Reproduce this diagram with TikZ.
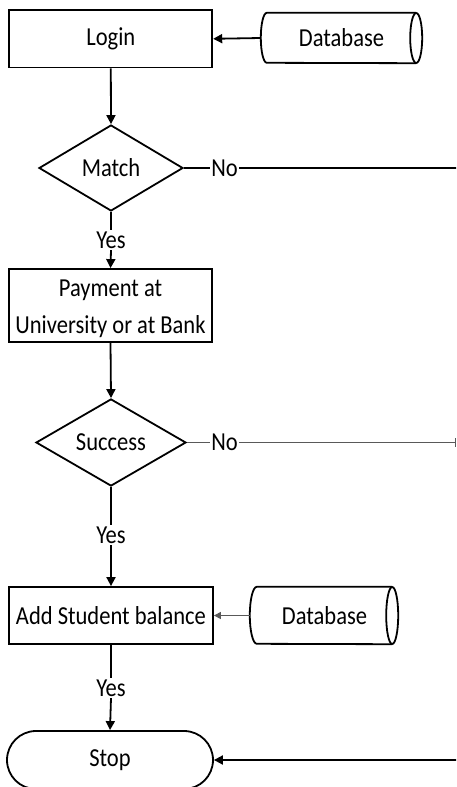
\documentclass[tikz,border=0pt]{standalone}
\usepackage{fontspec}
\setmainfont{Carlito}[FakeStretch=0.87]
\usetikzlibrary{shapes.geometric,shapes.misc,arrows.meta}

\begin{document}
\begin{tikzpicture}[x=1pt,y=1pt,
  every node/.style={font=\fontsize{25.9}{37}\selectfont},
  conn/.style={line width=1.8pt, draw=black},
  arr/.style={conn, -{Triangle[length=9pt,width=9pt]}},
  greyconn/.style={line width=1.1pt, draw=black!65},
  outline/.style={line width=1.8pt, draw=black},
  proc/.style={outline, rectangle, minimum width=203pt, inner sep=0pt, align=center},
  decision/.style={outline, diamond, inner sep=0pt},
  dbbody/.style={rectangle, inner sep=0pt},
  terminal/.style={outline, rounded rectangle, inner sep=0pt},
  lbl/.style={inner sep=1.5pt}
]
\useasboundingbox (0,0) rectangle (456,-787);
\clip (0,0) rectangle (456,-787);

% process steps
\node[proc, minimum height=57.5pt] (login) at (110.8,-38.8) {Login};
\node[decision, minimum width=144pt, minimum height=86pt] (match) at (111,-168) {Match};
\node[proc, minimum height=73pt] (pay) at (110.5,-305.5) {};
\node[align=center, inner sep=0pt, yshift=-3.5pt] (paytext) at (pay) {Payment at\\University or at Bank};
\node[decision, minimum width=150pt, minimum height=87pt] (succ) at (111,-442.5) {Success};
\node[proc, minimum width=204pt, minimum height=57pt] (add) at (111,-615.5) {Add Student balance};
\node[terminal, minimum width=206pt, minimum height=58pt] (stop) at (110,-760) {Stop};

% data stores: body of a horizontal cylinder, ends drawn as arcs
\node[dbbody, minimum width=149pt, minimum height=50pt] (db1) at (341.5,-38) {Database};
\draw[outline] (db1.north east) -- (db1.north west)
  arc[start angle=90, end angle=270, x radius=6pt, y radius=25pt] -- (db1.south east);
\draw[outline] (db1.east) ellipse [x radius=6pt, y radius=25pt];

\node[dbbody, minimum width=135pt, minimum height=57pt] (db2) at (324.5,-615.5) {Database};
\draw[outline] (db2.north east) -- (db2.north west)
  arc[start angle=90, end angle=270, x radius=7pt, y radius=28.5pt] -- (db2.south east);
\draw[outline] (db2.east) ellipse [x radius=6pt, y radius=28.5pt];

% branch labels
\node[lbl] (no1) at (224.5,-168) {No};
\node[lbl] (no2) at (224.5,-442.5) {No};
\node[lbl] (yes1) at (111,-240) {Yes};
\node[lbl] (yes2) at (111,-535) {Yes};
\node[lbl] (yes3) at (111,-688) {Yes};

% free ends at the right margin
\coordinate (r1) at (460,-168);
\coordinate (r2) at (456,-442.5);
\coordinate (r3) at (460,-760);

% connectors
\draw[arr] ([xshift=-6pt]db1.west) -- (login.east);
\draw[arr] (login.south) -- (match.north);
\draw[conn] (match.east) -- (no1.west);
\draw[conn] (no1.east) -- (r1);
\draw[conn] (match.south) -- (yes1.north);
\draw[arr] (yes1.south) -- (pay.north);
\draw[arr] (pay.south) -- (succ.north);
\draw[greyconn] (succ.east) -- (no2.west);
\draw[greyconn, -{Bar[width=9pt,line width=1pt]}] (no2.east) -- (r2);
\draw[conn] (succ.south) -- (yes2.north);
\draw[arr] (yes2.south) -- (add.north);
\draw[greyconn, -{Triangle[length=7pt,width=7pt]}] ([xshift=-7pt]db2.west) -- (add.east);
\draw[conn] (add.south) -- (yes3.north);
\draw[arr] (yes3.south) -- (stop.north);
\draw[arr] (r3) -- (stop.east);
\end{tikzpicture}
\end{document}
